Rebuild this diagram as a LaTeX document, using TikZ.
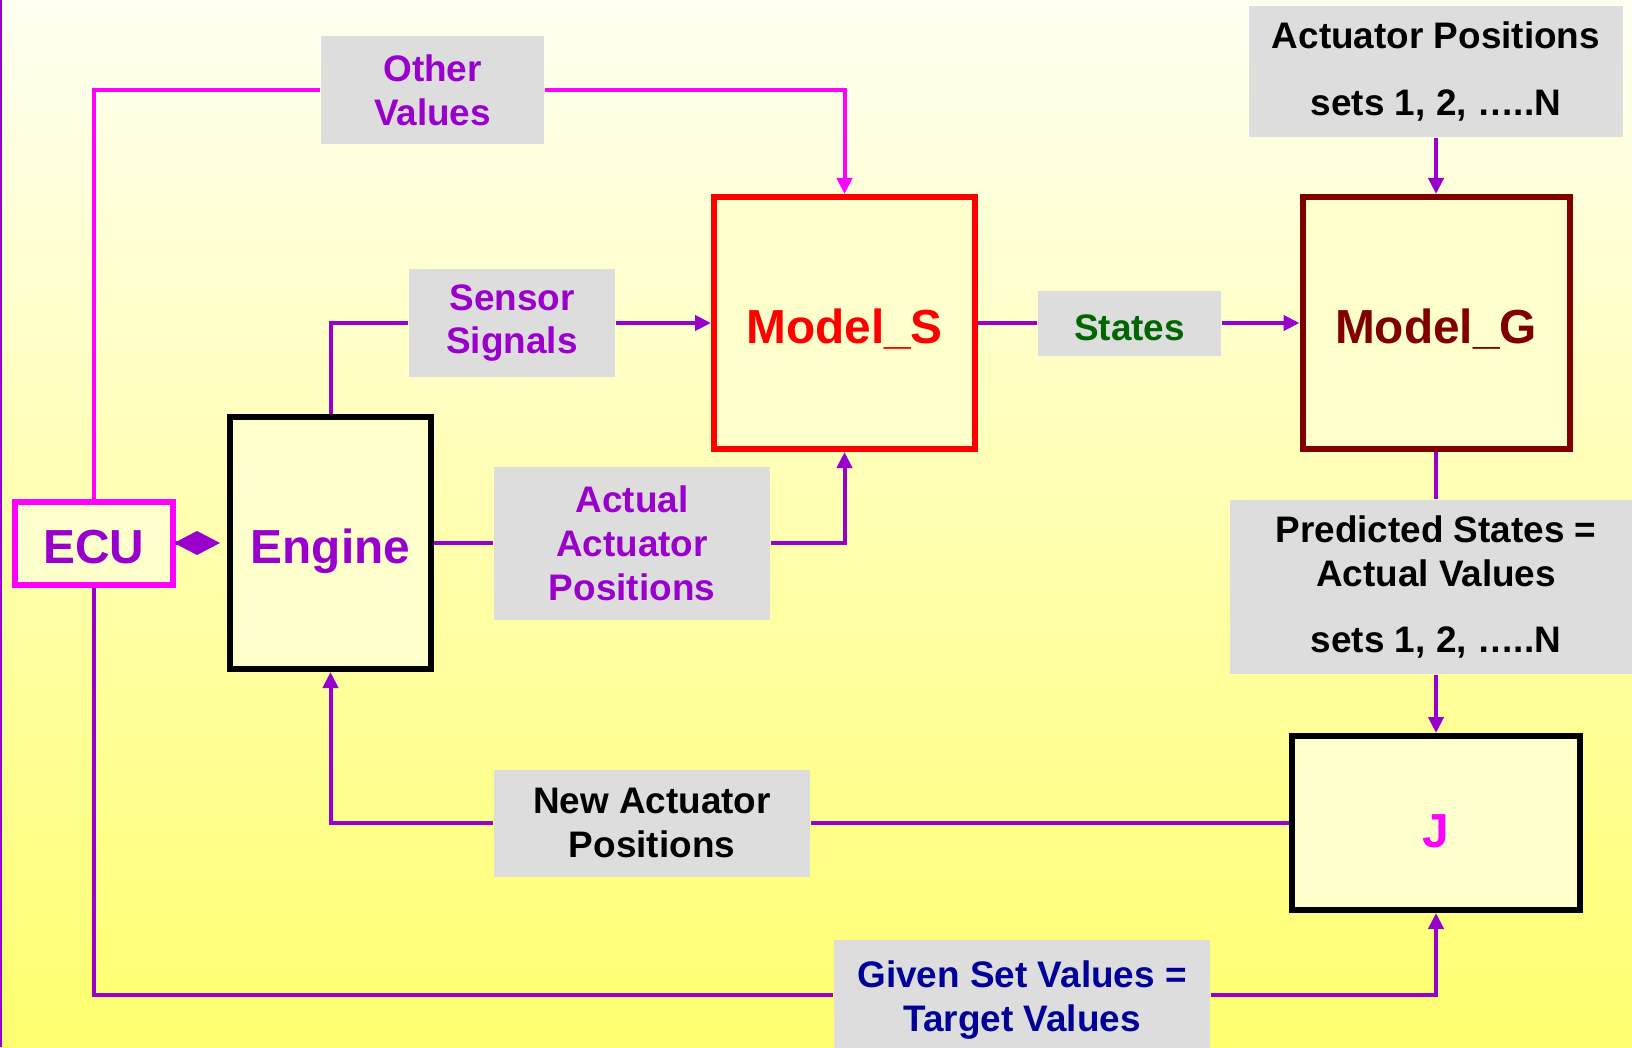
\documentclass[tikz,border=0pt]{standalone}
\usepackage{fontspec}
\setmainfont{Liberation Sans}
\usepackage{xcolor}
\usepackage{tikz}
\usetikzlibrary{arrows.meta}
\definecolor{ecupurple}{HTML}{9900CC}
\definecolor{ecumagenta}{HTML}{FF00FF}
\definecolor{modelgred}{HTML}{800000}
\definecolor{statesgreen}{HTML}{006600}
\definecolor{targetblue}{HTML}{000099}
\definecolor{tagfill}{HTML}{DDDDDD}
\definecolor{boxfill}{HTML}{FFFFCC}
\definecolor{bgtop}{HTML}{FFFFF2}
\definecolor{bgmid}{HTML}{FFFFC0}
\definecolor{bgbot}{HTML}{FFFF6E}

\begin{document}
\begin{tikzpicture}[>={Triangle[length=1.6mm,width=1.5mm]},
  blk/.style={draw, line width=0.6mm, fill=boxfill, inner sep=0pt,
    text height=11.8pt, text depth=0pt,
    font=\fontsize{13.6}{16}\selectfont\bfseries},
  tag/.style={fill=tagfill, inner sep=0pt, align=center,
    font=\fontsize{10.5}{12.5}\selectfont\bfseries},
  sig/.style={line width=0.4mm, ecupurple}]
% page and yellow backdrop
\clip (0,0) rectangle (16.32,10.47);
\shade[top color=bgtop, middle color=bgmid, bottom color=bgbot] (0,0) rectangle (16.32,10.47);
\draw[ecupurple, line width=0.2mm] (0.01,0)--(0.01,10.47);
% blocks
\node[blk, draw=ecumagenta, text=ecupurple, minimum width=1.58cm, minimum height=0.83cm] (ecu) at (0.94,5.04) {ECU};
\node[blk, draw=black, text=ecupurple, minimum width=2.01cm, minimum height=2.52cm] (engine) at (3.305,5.04) {Engine};
\node[blk, draw=red, text=red, minimum width=2.61cm, minimum height=2.52cm] (models) at (8.445,7.24) {Model\_S};
\node[blk, draw=modelgred, text=modelgred, minimum width=2.67cm, minimum height=2.52cm] (modelg) at (14.36,7.24) {Model\_G};
\node[blk, draw=black, text=ecumagenta, minimum width=2.88cm, minimum height=1.74cm,
  text height=13.8pt] (jbox) at (14.36,2.24) {J};
% signal tags
\node[tag, text=ecupurple, minimum width=2.23cm, minimum height=1.08cm] (other) at (4.325,9.57) {Other\\Values};
\node[tag, text=ecupurple, minimum width=2.06cm, minimum height=1.08cm] (sensor) at (5.12,7.24) {Sensor\\Signals};
\node[tag, text=statesgreen, minimum width=1.83cm, minimum height=0.65cm,
  text height=9.7pt, text depth=0pt] (states) at (11.295,7.24) {States};
\node[tag, text=ecupurple, minimum width=2.76cm, minimum height=1.53cm] (actual) at (6.32,5.04) {Actual\\Actuator\\Positions};
\node[tag, text=black, minimum width=3.74cm, minimum height=1.31cm] (sets) at (14.36,9.755) {Actuator Positions\\[6.3pt]sets 1, 2, …..N};
\node[tag, text=black, minimum width=4.12cm, minimum height=1.74cm] (pred) at (14.36,4.60) {Predicted States =\\Actual Values\\[6.3pt]sets 1, 2, …..N};
\node[tag, text=black, minimum width=3.16cm, minimum height=1.07cm] (newpos) at (6.52,2.24) {New Actuator\\Positions};
\node[tag, text=targetblue, minimum width=3.76cm, minimum height=1.20cm] (given) at (10.22,0.47) {Given Set Values =\\Target Values};
\coordinate (givenin) at ([yshift=0.05cm]given.west);
\coordinate (givenout) at ([yshift=0.05cm]given.east);
% connectors
\draw[sig, ecumagenta] (ecu.north) |- (other.west);
\draw[sig, ecumagenta, ->] (other.east) -| (models.north);
\draw[sig] (engine.north) |- (sensor.west);
\draw[sig, ->] (sensor.east) -- (models.west);
\draw[sig] (models.east) -- (states.west);
\draw[sig, ->] (states.east) -- (modelg.west);
\draw[sig] (engine.east) -- (actual.west);
\draw[sig, ->] (actual.east) -| (models.south);
\draw[sig, ->] (sets.south) -- (modelg.north);
\draw[sig] (modelg.south) -- (pred.north);
\draw[sig, ->] (pred.south) -- (jbox.north);
\draw[sig] (jbox.west) -- (newpos.east);
\draw[sig, ->] (newpos.west) -| (engine.south);
\draw[sig] (ecu.south) |- (givenin);
\draw[sig, ->] (givenout) -| (jbox.south);
% ECU <-> engine link
\draw[sig, -{Diamond[length=4.6mm,width=2.4mm]}, shorten >=0.7mm] (ecu.east) -- (engine.west);
\end{tikzpicture}
\end{document}
